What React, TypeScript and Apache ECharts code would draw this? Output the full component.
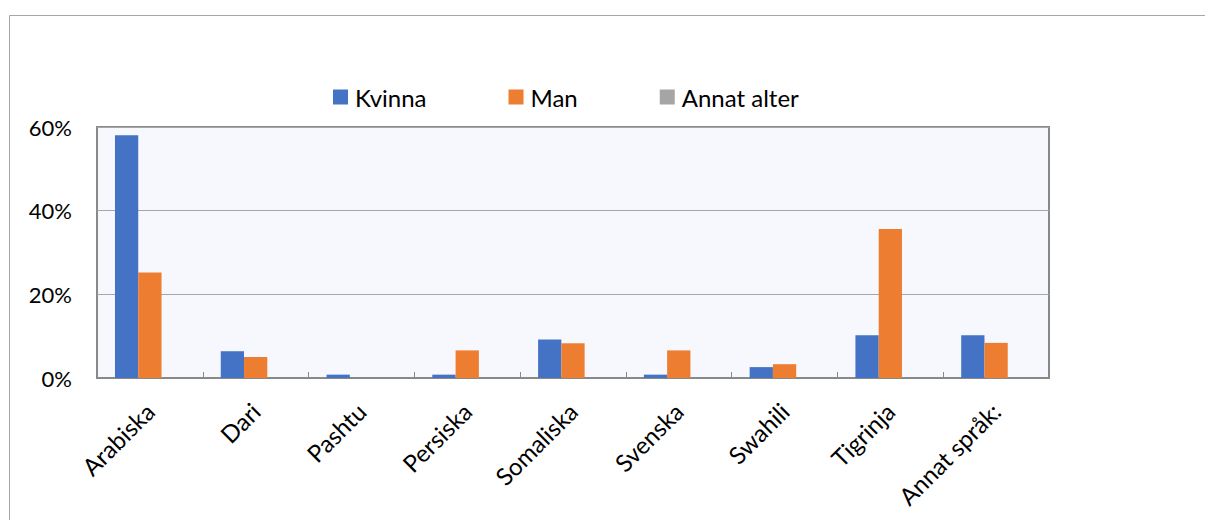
import React, { useEffect, useRef } from "react";
import * as echarts from "echarts";

const categories = ["Arabiska", "Dari", "Pashtu", "Persiska", "Somaliska", "Svenska", "Swahili", "Tigrinja", "Annat språk:"];
const kvinna = [58.0, 6.4, 0.8, 0.8, 9.2, 0.8, 2.6, 10.2, 10.2];
const man = [25.2, 5.0, 0, 6.6, 8.3, 6.6, 3.3, 35.6, 8.4];
const annatAlter = [0, 0, 0, 0, 0, 0, 0, 0, 0];
const yTicks = [0, 20, 40, 60];

const FONT = "Lato, 'Noto Sans', sans-serif";

export default function App() {
  const ref = useRef<HTMLDivElement>(null);
  useEffect(() => {
    document.body.style.margin = "0";
    const chart = echarts.init(ref.current!, null, { renderer: "svg" });
    chart.setOption({
      animation: false,
      textStyle: { fontFamily: FONT },
      graphic: [
        {
          type: "rect",
          z: -10,
          shape: { x: 9.5, y: 15.5, width: 1400, height: 700 },
          style: { fill: "none", stroke: "#a6a6a6", lineWidth: 1 },
        },
      ],
      legend: {
        left: 328,
        top: 80,
        itemWidth: 15,
        itemHeight: 15,
        itemGap: 82,
        icon: "rect",
        textStyle: { fontSize: 24, color: "#000", fontFamily: FONT, padding: [0, 0, 0, 2] },
        data: ["Kvinna", "Man", "Annat alter"],
      },
      grid: {
        left: 97,
        top: 127,
        right: 156,
        bottom: 142,
        show: true,
        backgroundColor: "#f7f8fd",
        borderColor: "#898989",
        borderWidth: 2,
        containLabel: false,
      },
      xAxis: {
        type: "category",
        data: categories,
        axisLine: { show: true, lineStyle: { color: "#898989", width: 2 } },
        axisTick: { show: true, inside: true, length: 6, lineStyle: { color: "#898989" } },
        axisLabel: { rotate: 45, fontSize: 24, color: "#000", margin: 29, fontFamily: FONT, interval: 0 },
      },
      yAxis: {
        type: "value",
        min: yTicks[0],
        max: yTicks[yTicks.length - 1],
        interval: 20,
        axisLine: { show: false },
        axisTick: { show: false },
        splitLine: { lineStyle: { color: "#a6a6a6", width: 1 } },
        axisLabel: { formatter: "{value}%", fontSize: 22, color: "#000", margin: 25, fontFamily: FONT },
      },
      series: [
        { name: "Kvinna", type: "bar", data: kvinna, itemStyle: { color: "#4472c4" }, barGap: "0%", barCategoryGap: "34%" },
        { name: "Man", type: "bar", data: man, itemStyle: { color: "#ed7d31" }, barGap: "0%", barCategoryGap: "34%" },
        { name: "Annat alter", type: "bar", data: annatAlter, itemStyle: { color: "#a5a5a5" }, barGap: "0%", barCategoryGap: "34%" },
      ],
    });
    return () => chart.dispose();
  }, []);
  return <div ref={ref} style={{ width: 1205, height: 520 }} />;
}
